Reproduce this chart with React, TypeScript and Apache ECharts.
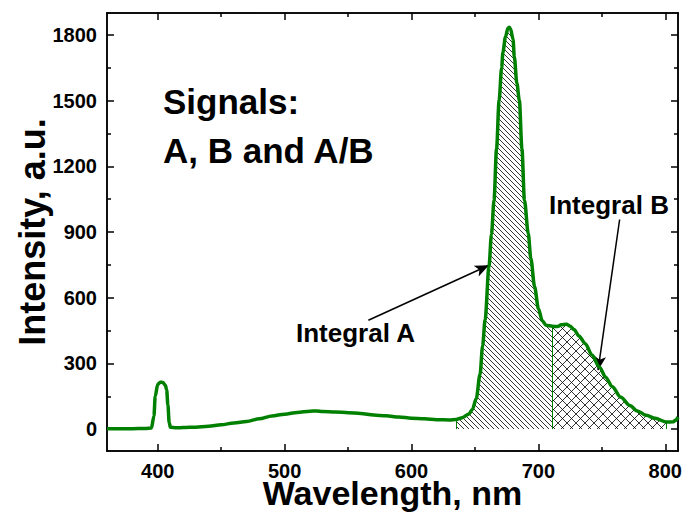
import React, { useEffect, useRef } from "react";
import * as echarts from "echarts";

// Spectrum (wavelength in nm, intensity in a.u.)
const wavelength = [
  360, 370, 380, 390, 395, 397, 398, 400, 402, 404, 406, 407, 408, 409, 410, 415,
  420, 430, 440, 450, 460, 470, 480, 490, 500, 510, 520, 525, 530, 540, 550, 560,
  570, 580, 590, 600, 610, 620, 630, 635, 640, 645, 648, 651, 654, 656, 658, 661,
  663, 665, 667, 669, 671, 672, 674, 676, 677, 678, 680, 681, 683, 685, 687, 689,
  692, 694, 697, 700, 703, 706, 711, 715, 718, 722, 725, 728, 732, 737, 742, 748,
  753, 758, 765, 772, 778, 785, 792, 801, 806, 808, 810,
];
const intensity = [
  2, 2, 2, 3, 5, 60, 150, 205, 214, 213, 200, 180, 110, 30, 8, 6,
  7, 9, 13, 20, 28, 35, 47, 60, 68, 76, 82, 83, 80, 78, 75, 71,
  64, 61, 55, 50, 47, 43, 42, 44, 52, 68, 90, 140, 250, 380, 500, 740,
  890, 1045, 1280, 1500, 1650, 1720, 1790, 1832, 1835, 1828, 1780, 1700, 1580, 1500, 1280, 1045,
  893, 780, 650, 550, 495, 474, 470, 468, 476, 479, 470, 455, 425, 390, 340, 284,
  237, 195, 145, 108, 83, 63, 49, 32, 33, 40, 55,
];

const xMajorTicks = [400, 500, 600, 700, 800];
const xMinorTicks = [450, 550, 650, 750];
const yMajorTicks = [0, 300, 600, 900, 1200, 1500, 1800];
const yMinorTicks = [150, 450, 750, 1050, 1350, 1650];

const integralAStart = 635;
const integralSplit = 711;
const integralBEnd = 801;

// Annotation arrows (data coordinates: [wavelength, intensity])
const arrowA = [[566, 497], [661, 748]];
const arrowB = [[764, 957], [747, 269]];

const FONT = "'Liberation Sans', Arial, Helvetica, sans-serif";
const GREEN = "#008000";

const svgUrl = (s: string) =>
  "data:image/svg+xml;charset=utf-8," + encodeURIComponent(s);

const hatchA = svgUrl(
  '<svg xmlns="http://www.w3.org/2000/svg" width="5" height="5"><path d="M-1,-1L6,6M-1,4L1,6M4,-1L6,1" stroke="#000" stroke-width="0.8" fill="none"/></svg>'
);
const hatchB = svgUrl(
  '<svg xmlns="http://www.w3.org/2000/svg" width="9" height="9"><path d="M-1,-1L10,10M-1,8L1,10M8,-1L10,1M10,-1L-1,10M-1,1L1,-1M8,10L10,8" stroke="#000" stroke-width="0.8" fill="none"/></svg>'
);

const pairs = wavelength.map((w, i) => [w, intensity[i]]);
const valueAt = (w: number) => intensity[wavelength.indexOf(w)];
const segA = pairs.filter((p) => p[0] >= integralAStart && p[0] <= integralSplit);
const segB = pairs.filter((p) => p[0] >= integralSplit && p[0] <= integralBEnd);

const tickStyle = { color: "#000", width: 1.5 };

function labelDef(ticks: number[]) {
  return {
    show: true,
    customValues: ticks,
    fontSize: 20,
    fontWeight: "bold",
    fontFamily: FONT,
    color: "#000",
    margin: 10,
    formatter: (v: number) => String(v),
  };
}

function xAxisDef(position: "top" | "bottom", ticks: number[], len: number, labels: boolean) {
  return {
    type: "value",
    min: 360,
    max: 810,
    position,
    axisLine: { show: true, onZero: false, lineStyle: tickStyle },
    axisTick: { show: true, inside: true, length: len, customValues: ticks, lineStyle: tickStyle },
    axisLabel: labels ? labelDef(ticks) : { show: false },
    splitLine: { show: false },
  };
}

function yAxisDef(position: "left" | "right", ticks: number[], len: number, labels: boolean) {
  return {
    type: "value",
    min: -100,
    max: 1900,
    position,
    axisLine: { show: true, onZero: false, lineStyle: tickStyle },
    axisTick: { show: true, inside: true, length: len, customValues: ticks, lineStyle: tickStyle },
    axisLabel: labels ? labelDef(ticks) : { show: false },
    splitLine: { show: false },
  };
}

export default function App() {
  const ref = useRef<HTMLDivElement>(null);
  useEffect(() => {
    if (!ref.current) return;
    const chart = echarts.init(ref.current, null, { renderer: "svg" });
    const xMain: any = xAxisDef("bottom", xMajorTicks, 7, true);
    xMain.name = "Wavelength, nm";
    xMain.nameLocation = "middle";
    xMain.nameGap = 25;
    xMain.nameMoveOverlap = false;
    xMain.nameTextStyle = { fontSize: 34, fontWeight: "bold", fontFamily: FONT, color: "#000" };
    const yMain: any = yAxisDef("left", yMajorTicks, 7, true);
    yMain.name = "Intensity, a.u.";
    yMain.nameLocation = "middle";
    yMain.nameGap = 57;
    yMain.nameMoveOverlap = false;
    yMain.nameTextStyle = { fontSize: 36, fontWeight: "bold", fontFamily: FONT, color: "#000" };

    const option: any = {
      animation: false,
      backgroundColor: "#fff",
      grid: {
        left: 107,
        right: 6,
        top: 13,
        bottom: 65,
        containLabel: false,
        outerBoundsMode: "none",
      },
      xAxis: [
        xMain,
        xAxisDef("top", xMajorTicks, 7, false),
        xAxisDef("bottom", xMinorTicks, 4, false),
        xAxisDef("top", xMinorTicks, 4, false),
      ],
      yAxis: [
        yMain,
        yAxisDef("right", yMajorTicks, 7, false),
        yAxisDef("left", yMinorTicks, 4, false),
        yAxisDef("right", yMinorTicks, 4, false),
      ],
      series: [
        {
          type: "line",
          data: segA,
          showSymbol: false,
          symbol: "none",
          smooth: 0.3,
          smoothMonotone: "x",
          lineStyle: { width: 0, opacity: 0 },
          areaStyle: {
            origin: 0,
            opacity: 1,
            color: { image: hatchA, repeat: "repeat", imageWidth: 5, imageHeight: 5 },
          },
          z: 1,
          silent: true,
        },
        {
          type: "line",
          data: segB,
          showSymbol: false,
          symbol: "none",
          smooth: 0.3,
          smoothMonotone: "x",
          lineStyle: { width: 0, opacity: 0 },
          areaStyle: {
            origin: 0,
            opacity: 1,
            color: { image: hatchB, repeat: "repeat", imageWidth: 9, imageHeight: 9 },
          },
          z: 1,
          silent: true,
        },
        {
          type: "line",
          data: pairs,
          showSymbol: false,
          symbol: "none",
          smooth: 0.3,
          smoothMonotone: "x",
          lineStyle: { color: GREEN, width: 3.5 },
          z: 5,
          silent: true,
          markLine: {
            silent: true,
            animation: false,
            label: { show: false },
            symbol: ["none", "none"],
            data: [
              [
                { coord: [integralAStart, 0], symbol: "none", lineStyle: { color: GREEN, width: 1, type: "solid" } },
                { coord: [integralAStart, valueAt(integralAStart)], symbol: "none" },
              ],
              [
                { coord: [integralSplit, 0], symbol: "none", lineStyle: { color: GREEN, width: 1, type: "solid" } },
                { coord: [integralSplit, valueAt(integralSplit)], symbol: "none" },
              ],
              [
                { coord: [integralBEnd, 0], symbol: "none", lineStyle: { color: GREEN, width: 1, type: "solid" } },
                { coord: [integralBEnd, valueAt(integralBEnd)], symbol: "none" },
              ],
              [
                { coord: arrowA[0], symbol: "none", lineStyle: { color: "#000", width: 1.5, type: "solid" } },
                { coord: arrowA[1], symbol: "arrow", symbolSize: [9, 14] },
              ],
              [
                { coord: arrowB[0], symbol: "none", lineStyle: { color: "#000", width: 1.5, type: "solid" } },
                { coord: arrowB[1], symbol: "arrow", symbolSize: [9, 14] },
              ],
            ],
          },
        },
      ],
      graphic: [
        {
          type: "text",
          x: 163,
          y: 101,
          style: { text: "Signals:", fontSize: 35, fontWeight: "bold", fontFamily: FONT, fill: "#000", verticalAlign: "middle", align: "left" },
        },
        {
          type: "text",
          x: 163,
          y: 150,
          style: { text: "A, B and A/B", fontSize: 35, fontWeight: "bold", fontFamily: FONT, fill: "#000", verticalAlign: "middle", align: "left" },
        },
        {
          type: "text",
          x: 296,
          y: 333,
          style: { text: "Integral A", fontSize: 26, fontWeight: "bold", fontFamily: FONT, fill: "#000", verticalAlign: "middle", align: "left" },
        },
        {
          type: "text",
          x: 549,
          y: 205,
          style: { text: "Integral B", fontSize: 26, fontWeight: "bold", fontFamily: FONT, fill: "#000", verticalAlign: "middle", align: "left" },
        },
      ],
    };
    chart.setOption(option);
    return () => chart.dispose();
  }, []);
  return (
    <div
      ref={ref}
      style={{ position: "absolute", left: 0, top: 0, width: 684, height: 516, background: "#fff" }}
    />
  );
}
